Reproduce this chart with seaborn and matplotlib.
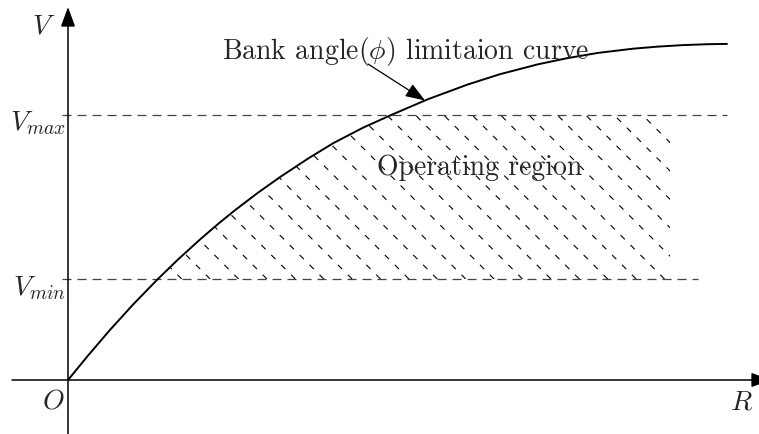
import numpy as np
import pandas as pd
import matplotlib
matplotlib.use("Agg")
import matplotlib.pyplot as plt
from matplotlib.patches import Polygon
import seaborn as sns

# Bank-angle limitation curve V(R), sampled points
curve_r = [0, 20, 42, 65, 89, 110, 132, 150, 167, 190, 212, 240, 265, 295,
           325, 360, 400, 432, 470, 499, 530, 565, 590, 615, 640, 659]
curve_v = [0, 24.4, 50.1, 75.4, 100.1, 120.5, 140.5, 156, 169.8, 187.3, 202.9,
           221.4, 236.7, 252.3, 265.8, 280.8, 295.6, 305.8, 315.7, 321.8, 327.1,
           331.3, 333.4, 334.9, 335.8, 336.1]

# Speed limits and right edge of the operating region
v_min = 101
v_max = 265
r_region_end = 602

curve_label = r"Bank angle($\phi$) limitaion curve"
region_label = "Operating region"

sns.set_theme(style="white")
plt.rcParams["font.family"] = ["cmr10", "DejaVu Serif"]
plt.rcParams["mathtext.fontset"] = "cm"
plt.rcParams["axes.formatter.use_mathtext"] = True
plt.rcParams["lines.scale_dashes"] = False

fig = plt.figure(figsize=(7.59, 4.35), dpi=100)
ax = fig.add_axes([0, 0, 1, 1])
ax.set_xlim(-68, 691)
ax.set_ylim(-54, 381)
ax.set_axis_off()

# coordinate axes with arrow heads
arrow_kw = dict(arrowstyle="-|>,head_length=0.6,head_width=0.22", color="black",
                lw=1.1, shrinkA=0, shrinkB=0, mutation_scale=20)
ax.annotate("", xy=(703, 0), xytext=(-56, 0), arrowprops=arrow_kw,
            annotation_clip=False)
ax.annotate("", xy=(0, 373), xytext=(0, -54), arrowprops=arrow_kw,
            annotation_clip=False)

# speed limit lines
dash = (0, (6.5, 4.3))
ax.plot([-6, 659], [v_max, v_max], color="#444444", lw=0.9, ls=dash)
ax.plot([-6, 630], [v_min, v_min], color="#444444", lw=0.9, ls=dash)

# the limitation curve
df = pd.DataFrame({"R": curve_r, "V": curve_v})
sns.lineplot(data=df, x="R", y="V", color="black", lw=1.4, sort=False,
             estimator=None, ax=ax)

# hatched operating region: between the limits, right of the curve
r_lo = np.interp(v_min, curve_v, curve_r)
r_hi = np.interp(v_max, curve_v, curve_r)
inner = [(r, v) for r, v in zip(curve_r, curve_v) if v_min < v < v_max]
verts = [(r_lo, v_min), (r_region_end, v_min), (r_region_end, v_max), (r_hi, v_max)]
verts += inner[::-1]
clip = Polygon(verts, closed=True, transform=ax.transData, fill=False, lw=0)
height = v_max - v_min
for c in np.arange(113.7, r_region_end + height + 1, 28.4):
    ln, = ax.plot([c, c - height], [v_min, v_max], color="black", lw=0.8,
                  ls=(0, (4.3, 5.8)), solid_capstyle="butt")
    ln.set_clip_path(clip)

# labels
fs = 20
ax.text(154, 322, curve_label, fontsize=fs, ha="left", va="baseline")
ax.text(309, 206, region_label, fontsize=fs, ha="left", va="baseline")
ax.text(-24, 347, r"$V$", fontsize=fs, ha="center", va="baseline")
ax.text(-2, 251, r"$V_{max}$", fontsize=fs, ha="right", va="baseline")
ax.text(-2, 86, r"$V_{min}$", fontsize=fs, ha="right", va="baseline")
ax.text(-3, -28, r"$O$", fontsize=fs, ha="right", va="baseline")
ax.text(662, -29, r"$R$", fontsize=fs, ha="left", va="baseline")

# pointer to the curve
tip_r = 357
tip_v = np.interp(tip_r, curve_r, curve_v)
ax.annotate("", xy=(tip_r, tip_v), xytext=(300, 316),
            arrowprops=dict(arrowstyle="-|>,head_length=0.6,head_width=0.22",
                            color="black", lw=0.9, shrinkA=0, shrinkB=0,
                            mutation_scale=20))

fig.savefig("out.png", dpi=100)
